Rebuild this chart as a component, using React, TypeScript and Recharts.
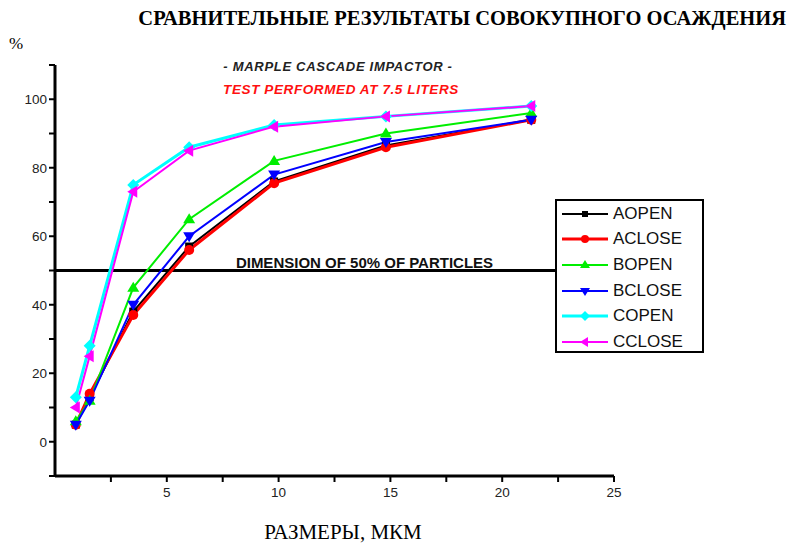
import React from 'react';
import {
  LineChart,
  Line,
  XAxis,
  YAxis,
  ReferenceLine,
} from 'recharts';

// particle size cut-points of the impactor stages, um
const sizes = [0.93, 1.55, 3.5, 6.0, 9.8, 14.8, 21.3];

// cumulative deposition, %
const aOpen = [5, 13, 38, 57, 76, 86.5, 94];
const aClose = [5, 14, 37, 56, 75.5, 86, 94];
const bOpen = [6, 12, 45, 65, 82, 90, 96];
const bClose = [5, 12, 40, 60, 78, 87.5, 94];
const cOpen = [13, 28, 75, 86, 92.5, 95, 98];
const cClose = [10, 25, 73, 85, 92, 95, 98];

const xTicks = [2.5, 5, 7.5, 10, 12.5, 15, 17.5, 20, 22.5, 25];
const yTicks = [-10, 0, 10, 20, 30, 40, 50, 60, 70, 80, 90, 100, 110];

type Shape = 'square' | 'circle' | 'up' | 'down' | 'diamond' | 'left';

const seriesList: { key: string; name: string; color: string; shape: Shape; width: number; values: number[] }[] = [
  { key: 'aOpen', name: 'AOPEN', color: '#000000', shape: 'square', width: 2, values: aOpen },
  { key: 'aClose', name: 'ACLOSE', color: '#ff0000', shape: 'circle', width: 3, values: aClose },
  { key: 'bOpen', name: 'BOPEN', color: '#00ee00', shape: 'up', width: 2, values: bOpen },
  { key: 'bClose', name: 'BCLOSE', color: '#0000ff', shape: 'down', width: 2, values: bClose },
  { key: 'cOpen', name: 'COPEN', color: '#00ffff', shape: 'diamond', width: 3, values: cOpen },
  { key: 'cClose', name: 'CCLOSE', color: '#ff00ff', shape: 'left', width: 2, values: cClose },
];

const data = sizes.map((x, i) => {
  const row: Record<string, number> = { x };
  seriesList.forEach((s) => {
    row[s.key] = s.values[i];
  });
  return row;
});

const SANS = '"Liberation Sans", Arial, sans-serif';
const SERIF = '"Liberation Serif", "Times New Roman", serif';

function Marker({ cx, cy, shape, color, r = 5 }: { cx: number; cy: number; shape: Shape; color: string; r?: number }) {
  switch (shape) {
    case 'square':
      return <rect x={cx - r + 1} y={cy - r + 1} width={2 * r - 2} height={2 * r - 2} fill={color} />;
    case 'circle':
      return <circle cx={cx} cy={cy} r={r} fill={color} />;
    case 'up':
      return <polygon points={`${cx},${cy - r - 1} ${cx - r - 1},${cy + r - 1} ${cx + r + 1},${cy + r - 1}`} fill={color} />;
    case 'down':
      return <polygon points={`${cx},${cy + r + 1} ${cx - r - 1},${cy - r + 1} ${cx + r + 1},${cy - r + 1}`} fill={color} />;
    case 'diamond':
      return <polygon points={`${cx},${cy - r - 1} ${cx + r + 1},${cy} ${cx},${cy + r + 1} ${cx - r - 1},${cy}`} fill={color} />;
    case 'left':
      return <polygon points={`${cx - r - 1},${cy} ${cx + r - 1},${cy - r - 1} ${cx + r - 1},${cy + r + 1}`} fill={color} />;
  }
  return null;
}

const LegendBox = () => (
  <div
    style={{
      position: 'absolute',
      left: 555,
      top: 199,
      width: 145,
      height: 150,
      border: '2px solid #000',
      background: '#fff',
      boxSizing: 'content-box',
    }}
  >
    {seriesList.map((s) => (
      <div key={s.key} style={{ display: 'flex', alignItems: 'center', height: 25.6 }}>
        <svg width={54} height={20} style={{ flex: 'none' }}>
          <line x1={5} y1={10} x2={51} y2={10} stroke={s.color} strokeWidth={s.width} />
          <Marker cx={28} cy={10} shape={s.shape} color={s.color} r={4} />
        </svg>
        <span style={{ fontFamily: SANS, fontSize: 17, color: '#111', marginLeft: 2, lineHeight: '20px' }}>{s.name}</span>
      </div>
    ))}
  </div>
);

export default function App() {
  return (
    <div style={{ position: 'absolute', left: 0, top: 0, width: 792, height: 544, background: '#fff' }}>
      <div
        style={{
          position: 'absolute',
          right: 6,
          top: 7,
          fontFamily: SERIF,
          fontWeight: 'bold',
          fontSize: 20.5,
          color: '#000',
          whiteSpace: 'nowrap',
        }}
      >
        СРАВНИТЕЛЬНЫЕ РЕЗУЛЬТАТЫ СОВОКУПНОГО ОСАЖДЕНИЯ
      </div>
      <div style={{ position: 'absolute', left: 9, top: 34, fontFamily: SERIF, fontSize: 17, color: '#000' }}>%</div>
      <div style={{ position: 'absolute', left: 0, top: 0 }}>
        <LineChart
          width={792}
          height={544}
          data={data}
          margin={{ top: 65, right: 178, bottom: 38, left: 0 }}
        >
          <XAxis
            dataKey="x"
            type="number"
            domain={[0, 25]}
            ticks={xTicks}
            tickFormatter={(v: number) => (v % 5 === 0 ? String(v) : '')}
            interval={0}
            height={30}
            axisLine={{ stroke: '#000', strokeWidth: 3 }}
            tickLine={{ stroke: '#000', strokeWidth: 2 }}
            tickSize={6}
            tick={{ fontFamily: SANS, fontSize: 13.5, fill: '#222' }}
            tickMargin={5}
          />
          <YAxis
            type="number"
            domain={[-10, 110]}
            ticks={yTicks}
            interval={0}
            tickFormatter={(v: number) => (v % 20 === 0 && v >= 0 && v <= 100 ? String(v) : '')}
            width={55}
            axisLine={{ stroke: '#000', strokeWidth: 3 }}
            tickLine={{ stroke: '#000', strokeWidth: 2 }}
            tickSize={6}
            tick={{ fontFamily: SANS, fontSize: 13.5, fill: '#222' }}
            tickMargin={2}
          />
          <ReferenceLine
            y={50}
            stroke="#000"
            strokeWidth={3}
            label={{
              value: 'DIMENSION OF 50% OF PARTICLES',
              position: 'top',
              dx: 30,
              dy: 2,
              fill: '#111',
              fontFamily: SANS,
              fontWeight: 'bold',
              fontSize: 15,
            }}
          />
          {seriesList.map((s) => (
            <Line
              key={s.key}
              dataKey={s.key}
              name={s.name}
              stroke={s.color}
              strokeWidth={s.width}
              isAnimationActive={false}
              dot={(p: any) => (
                <Marker key={`${s.key}-${p.index}`} cx={p.cx} cy={p.cy} shape={s.shape} color={s.color} />
              )}
              activeDot={false}
            />
          ))}
        </LineChart>
      </div>
      <div
        style={{
          position: 'absolute',
          left: 218,
          width: 240,
          top: 59,
          textAlign: 'center',
          fontFamily: SANS,
          fontStyle: 'italic',
          fontWeight: 'bold',
          fontSize: 13,
          letterSpacing: 0.7,
          color: '#222',
        }}
      >
        - MARPLE CASCADE IMPACTOR -
      </div>
      <div
        style={{
          position: 'absolute',
          left: 211,
          width: 260,
          top: 82,
          textAlign: 'center',
          fontFamily: SANS,
          fontStyle: 'italic',
          fontWeight: 'bold',
          fontSize: 13.5,
          letterSpacing: 0.6,
          color: '#ff1010',
        }}
      >
        TEST PERFORMED AT 7.5 LITERS
      </div>
      <div
        style={{
          position: 'absolute',
          left: 193,
          width: 300,
          top: 520,
          textAlign: 'center',
          fontFamily: SERIF,
          fontSize: 21,
          color: '#000',
        }}
      >
        РАЗМЕРЫ, МКМ
      </div>
      <LegendBox />
    </div>
  );
}
